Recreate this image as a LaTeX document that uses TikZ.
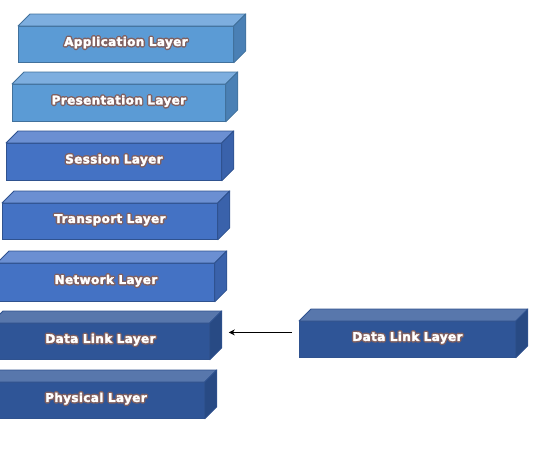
\documentclass[tikz,border=0pt]{standalone}
\usepackage{fontspec}
\setmainfont{DejaVu Sans}
\newfontfamily\lblfont[LetterSpace=3]{DejaVu Sans}
\usetikzlibrary{arrows.meta}
\definecolor{glowc}{RGB}{128,96,96}
\definecolor{a-front}{HTML}{5B9BD5}
\definecolor{a-top}{HTML}{7DAEDF}
\definecolor{a-side}{HTML}{4A80B5}
\definecolor{a-line}{HTML}{41719C}
\definecolor{b-front}{HTML}{4472C4}
\definecolor{b-top}{HTML}{6B8FD2}
\definecolor{b-side}{HTML}{3A62AB}
\definecolor{b-line}{HTML}{2F528F}
\definecolor{c-front}{HTML}{2F5597}
\definecolor{c-top}{HTML}{5877AC}
\definecolor{c-side}{HTML}{284A84}
\definecolor{c-line}{HTML}{2F528F}
\newcommand\glowtxt[1]{%
  \makebox[0pt][l]{\color{glowc}\special{pdf:literal direct 3.2 w 1 j 1 J 2 Tr}#1\special{pdf:literal direct 0 Tr}}%
  \textcolor{white}{\special{pdf:literal direct 0.3 w 2 Tr}#1\special{pdf:literal direct 0 Tr}}}
\tikzset{
  layerbox/.style={rectangle, draw=#1-line, fill=#1-front, line width=0.8pt,
    inner sep=0pt, anchor=north west, text height=8pt, text depth=5pt,
    font=\lblfont\bfseries\fontsize{12}{14}\selectfont},
  face/.style={draw=#1-line, line width=0.8pt, line join=round},
  link/.style={-{Stealth[length=6pt,width=6pt]}, line width=1.8pt, black}
}
\newcommand\layer[7]{%
  \node[layerbox=#6, minimum width=#4pt, minimum height=#5pt] (#1) at (#2,#3) {\glowtxt{#7}};
  \filldraw[face=#6, fill=#6-top] (#1.north west) -- ++(12,-12)
     -- ([shift={(12,-12)}]#1.north east) -- (#1.north east) -- cycle;
  \filldraw[face=#6, fill=#6-side] (#1.north east) -- ++(12,-12)
     -- ([shift={(12,-12)}]#1.south east) -- (#1.south east) -- cycle;
}
\begin{document}
\begin{tikzpicture}[x=1pt, y=-1pt]
  \useasboundingbox (0,0) rectangle (540,453);
  \layer{app}{18}{26}{215}{36}{a}{Application Layer}
  \layer{pres}{12}{84}{213}{37}{a}{Presentation Layer}
  \layer{sess}{6}{143}{215}{37}{b}{Session Layer}
  \layer{trans}{2}{203}{215}{36}{b}{Transport Layer}
  \layer{net}{-3}{263}{217}{38}{b}{Network Layer}
  \layer{dll}{-9}{323}{218}{36}{c}{Data Link Layer}
  \layer{phy}{-13}{382}{217}{36}{c}{Physical Layer}
  \layer{dlr}{299}{321}{216}{36}{c}{Data Link Layer}
  \coordinate (arrs) at ([shift={(-7,-7)}]dlr.west);
  \coordinate (arre) at ([shift={(19,-9)}]dll.east);
  \draw[link] (arrs) -- (arre |- arrs);
\end{tikzpicture}
\end{document}
